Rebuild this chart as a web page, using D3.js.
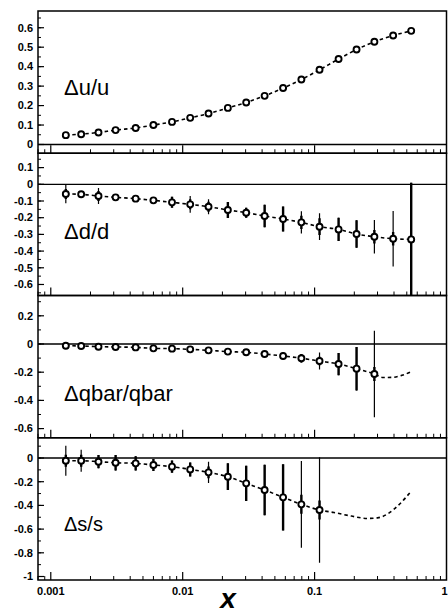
<!DOCTYPE html>
<html>
<head>
<meta charset="utf-8">
<script src="https://cdn.jsdelivr.net/npm/d3@7"></script>
<style>
  body { margin: 0; background: #fff; }
  svg { display: block; }
  text { font-family: "Liberation Sans", Arial, Helvetica, sans-serif; fill: #000; }
</style>
</head>
<body>
<svg id="chart" width="448" height="614"></svg>
<script>
// Bjorken-x bins shared by all four asymmetries
const xValues = [0.0013, 0.0017, 0.0023, 0.0031, 0.0044, 0.0060, 0.0083, 0.0114, 0.0157, 0.0220,
                 0.0303, 0.0418, 0.0577, 0.0794, 0.109, 0.152, 0.208, 0.284, 0.394, 0.54];

// Δu/u
const duValues = [0.048, 0.053, 0.062, 0.074, 0.085, 0.100, 0.116, 0.137, 0.159, 0.188,
                  0.216, 0.250, 0.290, 0.334, 0.384, 0.439, 0.488, 0.528, 0.560, 0.584];

// Δd/d
const ddValues = [-0.058, -0.060, -0.070, -0.078, -0.086, -0.096, -0.108, -0.120, -0.134, -0.154,
                  -0.170, -0.190, -0.208, -0.228, -0.254, -0.270, -0.298, -0.314, -0.326, -0.330];
const ddErrTotal = [0.056, 0.020, 0.048, 0.020, 0.020, 0.020, 0.033, 0.050, 0.045, 0.048,
                    0.030, 0.067, 0.075, 0.067, 0.080, 0.070, 0.082, 0.100, 0.166, 0.340];
const ddErrStat = [0.030, 0.020, 0.030, 0.020, 0.020, 0.020, 0.033, 0.030, 0.030, 0.048,
                   0.030, 0.067, 0.075, 0.040, 0.050, 0.070, 0.082, 0.040, 0.040, 0.340];

// Δqbar/qbar
const dqValues = [-0.012, -0.014, -0.019, -0.021, -0.024, -0.031, -0.033, -0.038, -0.045, -0.054,
                  -0.059, -0.071, -0.085, -0.101, -0.121, -0.142, -0.175, -0.213];
const dqErrTotal = [0.010, 0.010, 0.010, 0.012, 0.012, 0.012, 0.014, 0.015, 0.016, 0.018,
                    0.020, 0.022, 0.025, 0.030, 0.060, 0.079, 0.154, 0.307];
const dqErrStat = [0.010, 0.010, 0.010, 0.012, 0.012, 0.012, 0.014, 0.015, 0.016, 0.018,
                   0.020, 0.022, 0.025, 0.030, 0.030, 0.079, 0.154, 0.050];
const dqTailX = [0.33, 0.394, 0.46, 0.54];
const dqTailY = [-0.238, -0.236, -0.222, -0.197];

// Δs/s
const dsValues = [-0.023, -0.023, -0.031, -0.040, -0.045, -0.059, -0.073, -0.096, -0.121, -0.158,
                  -0.214, -0.270, -0.332, -0.391, -0.439];
const dsErrTotal = [0.127, 0.092, 0.056, 0.066, 0.060, 0.050, 0.052, 0.059, 0.090, 0.113,
                    0.148, 0.214, 0.280, 0.366, 0.445];
const dsErrStat = [0.050, 0.050, 0.056, 0.066, 0.060, 0.050, 0.052, 0.059, 0.050, 0.113,
                   0.148, 0.214, 0.280, 0.080, 0.080];
const dsTailX = [0.14, 0.19, 0.25, 0.30, 0.36, 0.44, 0.54];
const dsTailY = [-0.460, -0.490, -0.510, -0.505, -0.470, -0.390, -0.280];

// Axis ticks and labels
const xTickValues = [0.001, 0.01, 0.1, 1];
const xTickLabels = ["0.001", "0.01", "0.1", "1"];
const uTickValues = [0, 0.1, 0.2, 0.3, 0.4, 0.5, 0.6];
const uTickLabels = ["0", "0.1", "0.2", "0.3", "0.4", "0.5", "0.6"];
const dTickValues = [0.1, 0, -0.1, -0.2, -0.3, -0.4, -0.5, -0.6];
const dTickLabels = ["0.1", "0", "-0.1", "-0.2", "-0.3", "-0.4", "-0.5", "-0.6"];
const qTickValues = [0.2, 0, -0.2, -0.4, -0.6];
const qTickLabels = ["0.2", "0", "-0.2", "-0.4", "-0.6"];
const sTickValues = [0, -0.2, -0.4, -0.6, -0.8, -1];
const sTickLabels = ["0", "-0.2", "-0.4", "-0.6", "-0.8", "-1"];

const panelNames = ["\u0394u/u", "\u0394d/d", "\u0394qbar/qbar", "\u0394s/s"];

// ---- layout ----
const svg = d3.select("#chart");
const plotLeft = 38, plotRight = 446.5, plotTop = 11, panelH = 142.25;

const x = d3.scaleLog().domain([0.0008, 1.0]).range([plotLeft, plotRight]);

const panels = [
  { name: panelNames[0], domain: [-0.045, 0.686], minorStep: 0.05,
    ticks: uTickValues, labels: uTickLabels, values: duValues,
    errTot: null, errStat: null, tailX: [], tailY: [] },
  { name: panelNames[1], domain: [-0.666, 0.186], minorStep: 0.05,
    ticks: dTickValues, labels: dTickLabels, values: ddValues,
    errTot: ddErrTotal, errStat: ddErrStat, tailX: [], tailY: [] },
  { name: panelNames[2], domain: [-0.665, 0.344], minorStep: 0.1,
    ticks: qTickValues, labels: qTickLabels, values: dqValues,
    errTot: dqErrTotal, errStat: dqErrStat, tailX: dqTailX, tailY: dqTailY },
  { name: panelNames[3], domain: [-1.0295, 0.171], minorStep: 0.1,
    ticks: sTickValues, labels: sTickLabels, values: dsValues,
    errTot: dsErrTotal, errStat: dsErrStat, tailX: dsTailX, tailY: dsTailY }
];

// minor x ticks: 2..9 times each decade inside the domain
const xMinor = [];
[0.0001, 0.001, 0.01, 0.1].forEach(d => {
  for (let k = 2; k <= 9; k++) {
    const v = d * k;
    if (v >= x.domain()[0] && v <= x.domain()[1]) xMinor.push(v);
  }
});

const labelBaselines = [95, 239, 401, 531];
const labelSizes = [22, 22, 22, 20];

panels.forEach((p, i) => {
  const y0 = plotTop + i * panelH, y1 = y0 + panelH;
  const y = d3.scaleLinear().domain(p.domain).range([y1, y0]);
  const g = svg.append("g");

  const clipId = "clip" + i;
  svg.append("clipPath").attr("id", clipId)
    .append("rect").attr("x", plotLeft).attr("y", y0).attr("width", plotRight - plotLeft).attr("height", panelH);

  // zero line
  g.append("line")
    .attr("x1", plotLeft).attr("x2", plotRight).attr("y1", y(0)).attr("y2", y(0))
    .attr("stroke", "#000").attr("stroke-width", 1.3);

  // y axis ticks (inward)
  const yMinor = d3.range(Math.ceil(p.domain[0] / p.minorStep - 1e-6), Math.floor(p.domain[1] / p.minorStep + 1e-6) + 1)
    .map(k => k * p.minorStep);
  g.selectAll(null).data(yMinor).join("line")
    .attr("x1", plotLeft).attr("x2", plotLeft + 3)
    .attr("y1", d => y(d)).attr("y2", d => y(d))
    .attr("stroke", "#000").attr("stroke-width", 1);
  g.selectAll(null).data(p.ticks).join("line")
    .attr("x1", plotLeft).attr("x2", plotLeft + 6)
    .attr("y1", d => y(d)).attr("y2", d => y(d))
    .attr("stroke", "#000").attr("stroke-width", 1.2);
  g.selectAll(null).data(p.ticks).join("text")
    .attr("x", 33).attr("y", d => y(d) + 3.8)
    .attr("text-anchor", "end")
    .attr("font-size", 11).attr("font-weight", "bold")
    .text((d, k) => p.labels[k]);

  // x axis ticks (inward, from the panel bottom)
  g.selectAll(null).data(xMinor).join("line")
    .attr("x1", d => x(d)).attr("x2", d => x(d))
    .attr("y1", y1).attr("y2", y1 - 4)
    .attr("stroke", "#000").attr("stroke-width", 1);
  g.selectAll(null).data(xTickValues.filter(v => v < 1)).join("line")
    .attr("x1", d => x(d)).attr("x2", d => x(d))
    .attr("y1", y1).attr("y2", y1 - 8)
    .attr("stroke", "#000").attr("stroke-width", 1.2);

  const data = p.values.map((v, k) => ({ x: xValues[k], y: v, k }));
  const plot = g.append("g").attr("clip-path", `url(#${clipId})`);

  // fitted curve, dashed, through the points and beyond
  const curvePts = data.map(d => [d.x, d.y]).concat(p.tailX.map((t, k) => [t, p.tailY[k]]));
  plot.append("path")
    .attr("d", d3.line().x(d => x(d[0])).y(d => y(d[1])).curve(d3.curveMonotoneX)(curvePts))
    .attr("fill", "none").attr("stroke", "#000").attr("stroke-width", 1.6)
    .attr("stroke-dasharray", "3.5,3");

  // error bars: thin total, thick statistical part
  if (p.errTot) {
    plot.selectAll(null).data(data).join("line")
      .attr("x1", d => x(d.x)).attr("x2", d => x(d.x))
      .attr("y1", d => y(d.y + p.errTot[d.k])).attr("y2", d => y(d.y - p.errTot[d.k]))
      .attr("stroke", "#000").attr("stroke-width", 1.2);
    plot.selectAll(null).data(data).join("line")
      .attr("x1", d => x(d.x)).attr("x2", d => x(d.x))
      .attr("y1", d => y(d.y + p.errStat[d.k])).attr("y2", d => y(d.y - p.errStat[d.k]))
      .attr("stroke", "#000").attr("stroke-width", 2.4);
  }

  // open circle markers
  plot.selectAll(null).data(data).join("circle")
    .attr("cx", d => x(d.x)).attr("cy", d => y(d.y)).attr("r", 3)
    .attr("fill", "#fff").attr("stroke", "#000").attr("stroke-width", 1.9);

  // panel label
  g.append("text")
    .attr("x", 64).attr("y", labelBaselines[i])
    .attr("font-size", labelSizes[i])
    .text(p.name);

  // frame
  g.append("rect")
    .attr("x", plotLeft).attr("y", y0).attr("width", plotRight - plotLeft).attr("height", panelH)
    .attr("fill", "none").attr("stroke", "#000").attr("stroke-width", 1.5);
});

// bottom x-axis labels; the last one sits against the right edge
const plotBottom = plotTop + 4 * panelH;
svg.selectAll(null).data(xTickValues).join("text")
  .attr("x", d => d >= 1 ? 447.5 : x(d)).attr("y", plotBottom + 15)
  .attr("text-anchor", d => d >= 1 ? "end" : "middle")
  .attr("font-size", 11).attr("font-weight", "bold")
  .text((d, k) => xTickLabels[k]);

svg.append("text")
  .attr("x", 228).attr("y", 608)
  .attr("text-anchor", "middle")
  .attr("font-size", 28).attr("font-weight", "bold").attr("font-style", "italic")
  .text("x");
</script>
</body>
</html>
